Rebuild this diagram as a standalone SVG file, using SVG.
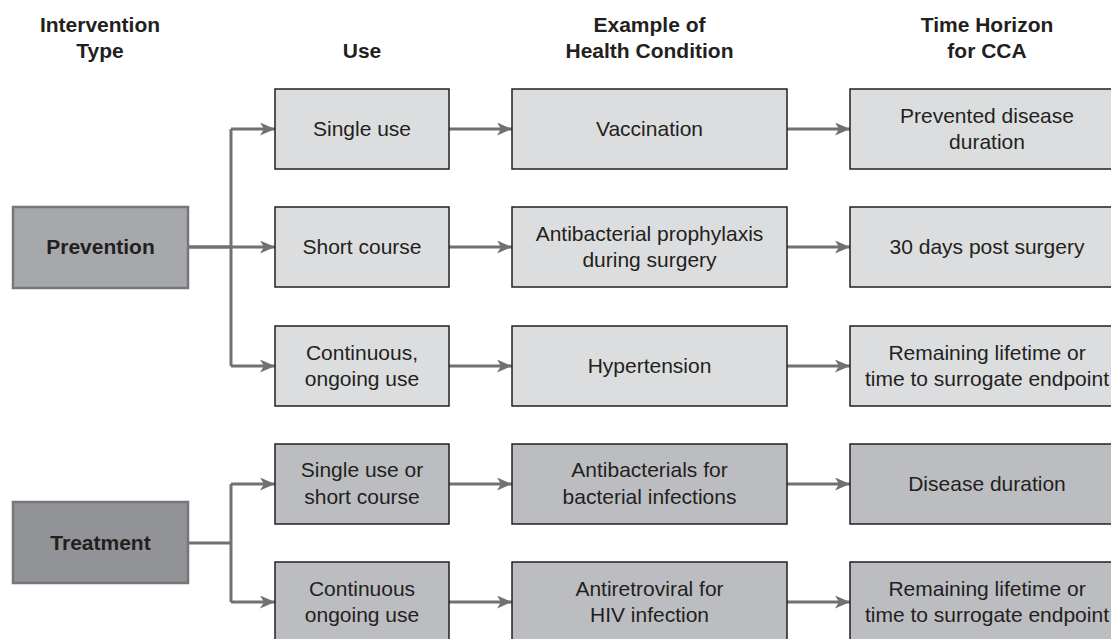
<svg xmlns="http://www.w3.org/2000/svg" width="1111" height="639" viewBox="0 0 1111 639">
  <defs>
    <marker id="arrow" markerUnits="userSpaceOnUse" markerWidth="16" markerHeight="14" refX="15" refY="6.5" orient="auto">
      <path d="M0,0 L15,6.5 L0,13 L4,6.5 Z" fill="#707173"/>
    </marker>
    <style>
      .hdr { font-family: "Liberation Sans", Arial, sans-serif; font-size: 21px; font-weight: bold; fill: #231f20; text-anchor: middle; }
      .lbl { font-family: "Liberation Sans", Arial, sans-serif; font-size: 21px; fill: #231f20; text-anchor: middle; }
      .lblb { font-family: "Liberation Sans", Arial, sans-serif; font-size: 21px; font-weight: bold; fill: #231f20; text-anchor: middle; }
      .type-prev { fill: #a7a8ab; stroke: #76777a; stroke-width: 2.5; }
      .type-treat { fill: #929396; stroke: #76777a; stroke-width: 2.5; }
      .box-prev { fill: #dcdddf; stroke: #231f20; stroke-width: 1.5; }
      .box-treat { fill: #bcbdc0; stroke: #231f20; stroke-width: 1.5; }
      .conn { fill: none; stroke: #707173; stroke-width: 3; }
      .conn-a { fill: none; stroke: #707173; stroke-width: 3; marker-end: url(#arrow); }
    </style>
  </defs>
  <rect width="1111" height="639" fill="#ffffff"/>

  <!-- column headers -->
  <g id="headers">
    <text class="hdr" x="100" y="32">Intervention</text>
    <text class="hdr" x="100" y="58">Type</text>
    <text class="hdr" x="362" y="58">Use</text>
    <text class="hdr" x="649.5" y="32">Example of</text>
    <text class="hdr" x="649.5" y="58">Health Condition</text>
    <text class="hdr" x="987" y="32">Time Horizon</text>
    <text class="hdr" x="987" y="58">for CCA</text>
  </g>

  <!-- connectors -->
  <g id="connectors">
    <!-- prevention fan-out -->
    <path class="conn" d="M188,247 H231"/>
    <path class="conn" d="M231,129 V366"/>
    <path class="conn-a" d="M231,129 H275"/>
    <path class="conn-a" d="M188,247 H275"/>
    <path class="conn-a" d="M231,366 H275"/>
    <!-- treatment fan-out -->
    <path class="conn" d="M188,543 H231"/>
    <path class="conn" d="M231,484 V602"/>
    <path class="conn-a" d="M231,484 H275"/>
    <path class="conn-a" d="M231,602 H275"/>
    <!-- use -> condition -->
    <path class="conn-a" d="M449,129 H512"/>
    <path class="conn-a" d="M449,247 H512"/>
    <path class="conn-a" d="M449,366 H512"/>
    <path class="conn-a" d="M449,484 H512"/>
    <path class="conn-a" d="M449,602 H512"/>
    <!-- condition -> time horizon -->
    <path class="conn-a" d="M787,129 H850"/>
    <path class="conn-a" d="M787,247 H850"/>
    <path class="conn-a" d="M787,366 H850"/>
    <path class="conn-a" d="M787,484 H850"/>
    <path class="conn-a" d="M787,602 H850"/>
  </g>

  <!-- intervention types -->
  <g id="prevention">
    <rect class="type-prev" x="13" y="207" width="175" height="81"/>
    <text class="lblb" x="100.5" y="254">Prevention</text>
  </g>
  <g id="treatment">
    <rect class="type-treat" x="13" y="502" width="175" height="81"/>
    <text class="lblb" x="100.5" y="550">Treatment</text>
  </g>

  <!-- use -->
  <g id="use-single">
    <rect class="box-prev" x="275" y="89" width="174" height="80"/>
    <text class="lbl" x="362" y="136">Single use</text>
  </g>
  <g id="use-short">
    <rect class="box-prev" x="275" y="207" width="174" height="80"/>
    <text class="lbl" x="362" y="254">Short course</text>
  </g>
  <g id="use-continuous">
    <rect class="box-prev" x="275" y="326" width="174" height="80"/>
    <text class="lbl" x="362" y="360">Continuous,</text>
    <text class="lbl" x="362" y="386">ongoing use</text>
  </g>
  <g id="use-single-short">
    <rect class="box-treat" x="275" y="444" width="174" height="80"/>
    <text class="lbl" x="362" y="477">Single use or</text>
    <text class="lbl" x="362" y="504">short course</text>
  </g>
  <g id="use-ongoing">
    <rect class="box-treat" x="275" y="562" width="174" height="80"/>
    <text class="lbl" x="362" y="596">Continuous</text>
    <text class="lbl" x="362" y="622">ongoing use</text>
  </g>

  <!-- health conditions -->
  <g id="cond-vaccination">
    <rect class="box-prev" x="512" y="89" width="275" height="80"/>
    <text class="lbl" x="649.5" y="136">Vaccination</text>
  </g>
  <g id="cond-prophylaxis">
    <rect class="box-prev" x="512" y="207" width="275" height="80"/>
    <text class="lbl" x="649.5" y="241">Antibacterial prophylaxis</text>
    <text class="lbl" x="649.5" y="267">during surgery</text>
  </g>
  <g id="cond-hypertension">
    <rect class="box-prev" x="512" y="326" width="275" height="80"/>
    <text class="lbl" x="649.5" y="373">Hypertension</text>
  </g>
  <g id="cond-antibacterials">
    <rect class="box-treat" x="512" y="444" width="275" height="80"/>
    <text class="lbl" x="649.5" y="477">Antibacterials for</text>
    <text class="lbl" x="649.5" y="504">bacterial infections</text>
  </g>
  <g id="cond-antiretroviral">
    <rect class="box-treat" x="512" y="562" width="275" height="80"/>
    <text class="lbl" x="649.5" y="596">Antiretroviral for</text>
    <text class="lbl" x="649.5" y="622">HIV infection</text>
  </g>

  <!-- time horizons -->
  <g id="time-prevented">
    <rect class="box-prev" x="850" y="89" width="275" height="80"/>
    <text class="lbl" x="987" y="123">Prevented disease</text>
    <text class="lbl" x="987" y="149">duration</text>
  </g>
  <g id="time-30days">
    <rect class="box-prev" x="850" y="207" width="275" height="80"/>
    <text class="lbl" x="987" y="254">30 days post surgery</text>
  </g>
  <g id="time-lifetime-prev">
    <rect class="box-prev" x="850" y="326" width="275" height="80"/>
    <text class="lbl" x="987" y="360">Remaining lifetime or</text>
    <text class="lbl" x="987" y="386">time to surrogate endpoint</text>
  </g>
  <g id="time-disease">
    <rect class="box-treat" x="850" y="444" width="275" height="80"/>
    <text class="lbl" x="987" y="491">Disease duration</text>
  </g>
  <g id="time-lifetime-treat">
    <rect class="box-treat" x="850" y="562" width="275" height="80"/>
    <text class="lbl" x="987" y="596">Remaining lifetime or</text>
    <text class="lbl" x="987" y="622">time to surrogate endpoint</text>
  </g>
</svg>
